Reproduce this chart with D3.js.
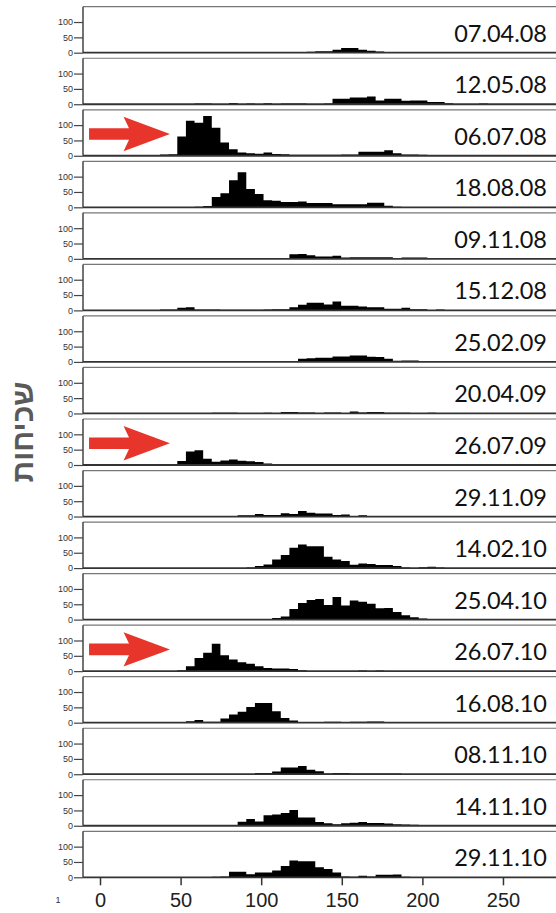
<!DOCTYPE html>
<html>
<head>
<meta charset="utf-8">
<script src="https://cdn.jsdelivr.net/npm/d3@7/dist/d3.min.js"></script>
<style>
  body { margin: 0; background: #fff; }
  svg { display: block; }
</style>
</head>
<body>
<script>
var width = 556;
var height = 913;

// panel labels, top to bottom
var dates = ['07.04.08', '12.05.08', '06.07.08', '18.08.08', '09.11.08', '15.12.08',
             '25.02.09', '20.04.09', '26.07.09', '29.11.09', '14.02.10', '25.04.10',
             '26.07.10', '16.08.10', '08.11.10', '14.11.10', '29.11.10'];

// panels marked with a red arrow
var arrowDates = ['06.07.08', '26.07.09', '26.07.10'];

var xTicks = [0, 50, 100, 150, 200, 250];
var yTicks = [0, 50, 100];

// histogram bins: first bin edge and bin width (x units)
var binStart = -0.2;
var binWidth = 5.35;

// counts per bin, bin 0 first
var c070408 = [0,0,0,0,0,0,0,0,0,0, 0,0,0,0,2,2,0,2,0,0, 0,0,0,0,3,5,5,10,15,15, 10,6,4,2,2,2,2,0,0,0];
var c120508 = [0,0,0,0,0,0,0,0,0,0, 0,2,2,0,0,4,0,2,0,3, 0,2,2,2,0,0,2,18,18,22, 22,25,12,18,18,11,12,12,7,7, 3,0,0,0,2,0];
var c060708 = [0,0,0,0,0,0,0,4,5,63, 114,108,130,91,43,21,11,8,7,11, 6,5,3,3,3,3,3,3,4,4, 13,13,13,18,8,4,4,3,0,0];
var c180808 = [0,0,0,0,0,0,0,0,0,0, 0,2,4,34,46,88,114,60,43,23, 21,17,17,19,14,14,14,10,10,10, 10,15,15,5,2,0,0,0,0,0];
var c091108 = [0,0,0,0,0,0,0,0,0,0, 0,0,0,0,2,0,0,0,0,0, 2,2,15,16,12,8,8,10,4,5, 5,5,5,5,3,4,4,4,0,0];
var c151208 = [0,0,0,0,0,0,0,3,3,9, 10,3,3,3,2,2,2,2,2,3, 4,4,10,18,25,25,19,29,15,15, 13,10,10,5,5,9,4,4,0,3];
var c250209 = [0,0,0,0,0,0,0,0,0,0, 0,0,0,0,2,2,0,0,0,0, 2,3,3,10,12,14,14,18,18,21, 21,17,16,10,4,5,5,3,0,0];
var c200409 = [0,0,0,0,0,0,0,0,0,0, 0,0,0,2,2,2,0,0,0,2, 0,5,5,3,3,0,3,3,0,6, 3,5,5,2,2,2,0,0,2,0];
var c260709 = [0,0,0,0,0,0,0,0,2,13, 44,48,20,11,15,18,14,12,10,5, 3,2,2,0,0,0,2,0,0,0];
var c291109 = [0,0,0,0,0,0,0,0,0,0, 0,0,0,0,2,2,4,4,8,5, 5,11,8,18,12,10,10,5,7,2, 4,2,2,0,2,2,2,0,0,0];
var c140210 = [0,0,0,0,0,0,0,0,0,0, 0,0,0,0,0,0,0,2,7,12, 28,43,66,77,71,71,37,28,23,11, 15,13,10,10,7,2,0,3,4,2];
var c250410 = [0,0,0,0,0,0,0,0,0,0, 0,0,0,0,0,0,0,0,0,2, 5,10,35,54,64,67,48,74,46,62, 58,52,37,38,25,14,8,4,2,2, 0,0,0,0,2,2];
var c260710 = [0,0,0,0,0,0,0,0,0,3, 16,43,60,89,52,38,29,24,16,10, 9,9,7,3,0,0,0,0,0,0, 2,0,2,0,0,0,0,0,0,0];
var c160810 = [0,0,0,0,0,0,0,0,0,2, 5,9,3,3,14,27,36,51,64,64, 37,15,7,0,0,2,3,3,2,3, 3,4,4,2,0,2,2,2,0,0];
var c081110 = [0,0,0,0,0,0,0,0,0,0, 0,0,0,0,0,0,0,0,4,4, 9,22,22,27,15,10,2,4,4,2, 2,2,2,2,2,0,0,0,0,0];
var c141110 = [0,0,0,0,0,0,0,0,0,0, 0,0,0,0,2,2,13,22,14,34, 37,42,51,27,27,12,8,5,8,10, 12,9,9,7,5,4,3,2,2,0];
var c291110 = [0,0,0,0,0,0,0,0,0,0, 0,0,0,2,3,18,18,10,16,16, 22,37,55,52,52,33,27,16,3,2, 5,3,8,8,9,2,0,0,0,0];

var series = [c070408, c120508, c060708, c180808, c091108, c151208, c250209, c200409, c260709,
              c291109, c140210, c250410, c260710, c160810, c081110, c141110, c291110];

var barColor = '#000';
var arrowColor = '#e8352b';
var frameColor = '#444';

//x scale shared by all the panels
var x = d3.scaleLinear()
    .domain([-10.55, 282.9])
    .range([83, 556]);

//one band per panel
var band = d3.scaleBand()
    .domain(dates)
    .range([6.7, 877.3])
    .paddingInner(0.1075)
    .paddingOuter(0);

var ph = band.bandwidth();

var y = d3.scaleLinear()
    .domain([0, 150])
    .range([ph, 0]);

var svg = d3.select('body')
    .append('svg')
    .attr('width', width)
    .attr('height', height)
    .style('background', '#fff');

//appending one group per panel
var panel = svg.selectAll('g.panel')
    .data(dates)
    .enter()
    .append('g')
    .attr('class', 'panel')
    .attr('transform', function(d) {
        return 'translate(0,' + band(d) + ')';
    });

//histogram drawn as one stepped area, so neighbouring bars don't show seams
var hist = d3.area()
    .curve(d3.curveStepAfter)
    .x(function(b) { return x(b.x); })
    .y0(y(0))
    .y1(function(b) { return y(b.n); });

panel.append('path')
    .attr('class', 'hist')
    .attr('d', function(d, i) {
        var vals = series[i];
        var pts = vals.map(function(v, k) {
            return { x: binStart + k * binWidth, n: v };
        });
        pts.push({ x: binStart + vals.length * binWidth, n: 0 });
        return hist(pts);
    })
    .style('fill', barColor);

//frame: top, left, bottom
panel.append('line')
    .attr('x1', x.range()[0]).attr('x2', x.range()[1])
    .attr('y1', 0).attr('y2', 0)
    .style('stroke', '#777')
    .style('stroke-width', 1.2);

panel.append('line')
    .attr('x1', x.range()[0]).attr('x2', x.range()[0])
    .attr('y1', 0).attr('y2', ph)
    .style('stroke', frameColor)
    .style('stroke-width', 1.5);

panel.append('line')
    .attr('x1', x.range()[0]).attr('x2', x.range()[1])
    .attr('y1', ph).attr('y2', ph)
    .style('stroke', '#333')
    .style('stroke-width', 1.8);

//y axis per panel
panel.append('g')
    .attr('transform', 'translate(' + x.range()[0] + ',0)')
    .call(d3.axisLeft(y).tickValues(yTicks).tickSize(9).tickPadding(1))
    .call(function(g) { g.select('.domain').remove(); })
    .call(function(g) {
        g.selectAll('line').style('stroke', frameColor).style('stroke-width', 1.2);
        g.selectAll('text')
            .style('font-family', '"Liberation Sans", Arial, sans-serif')
            .style('font-size', '9px')
            .style('fill', '#333');
    });

//date label in each panel
panel.append('text')
    .attr('x', 547)
    .attr('y', 35)
    .attr('text-anchor', 'end')
    .style('font-family', 'Lato, "Open Sans", sans-serif')
    .style('font-size', '23.5px')
    .style('fill', '#111')
    .text(function(d) { return d; });

//red arrows (x in axis units, y in count units)
var arrowPts = [[-6.8, 90], [18, 90], [14.6, 127], [43.4, 71], [14.6, 15], [18, 52], [-6.8, 52]];
panel.filter(function(d) { return arrowDates.indexOf(d) >= 0; })
    .append('path')
    .attr('d', function() {
        return d3.line()
            .x(function(p) { return x(p[0]); })
            .y(function(p) { return y(p[1]); })(arrowPts) + 'Z';
    })
    .style('fill', arrowColor);

//x axis under the last panel
var bottom = band(dates[dates.length - 1]) + ph;
svg.append('g')
    .attr('transform', 'translate(0,' + bottom + ')')
    .call(d3.axisBottom(x).tickValues(xTicks).tickSize(8).tickPadding(8))
    .call(function(g) { g.select('.domain').remove(); })
    .call(function(g) {
        g.selectAll('line').style('stroke', '#333').style('stroke-width', 1.5);
        g.selectAll('text')
            .style('font-family', '"Liberation Sans", Arial, sans-serif')
            .style('font-size', '20px')
            .style('fill', '#222');
    });

//small '1' bottom left
svg.append('text')
    .attr('x', 58)
    .attr('y', 903)
    .attr('text-anchor', 'middle')
    .style('font-family', '"Liberation Sans", Arial, sans-serif')
    .style('font-size', '9px')
    .style('fill', '#333')
    .text('1');

//y title (hebrew)
svg.append('text')
    .attr('transform', 'translate(22,432) rotate(-90)')
    .attr('text-anchor', 'middle')
    .attr('dominant-baseline', 'central')
    .style('font-family', '"Liberation Sans", "DejaVu Sans", Arial, sans-serif')
    .style('font-size', '30px')
    .style('font-weight', 'bold')
    .style('fill', '#5a5a5a')
    .text('שכיחות');
</script>
</body>
</html>
